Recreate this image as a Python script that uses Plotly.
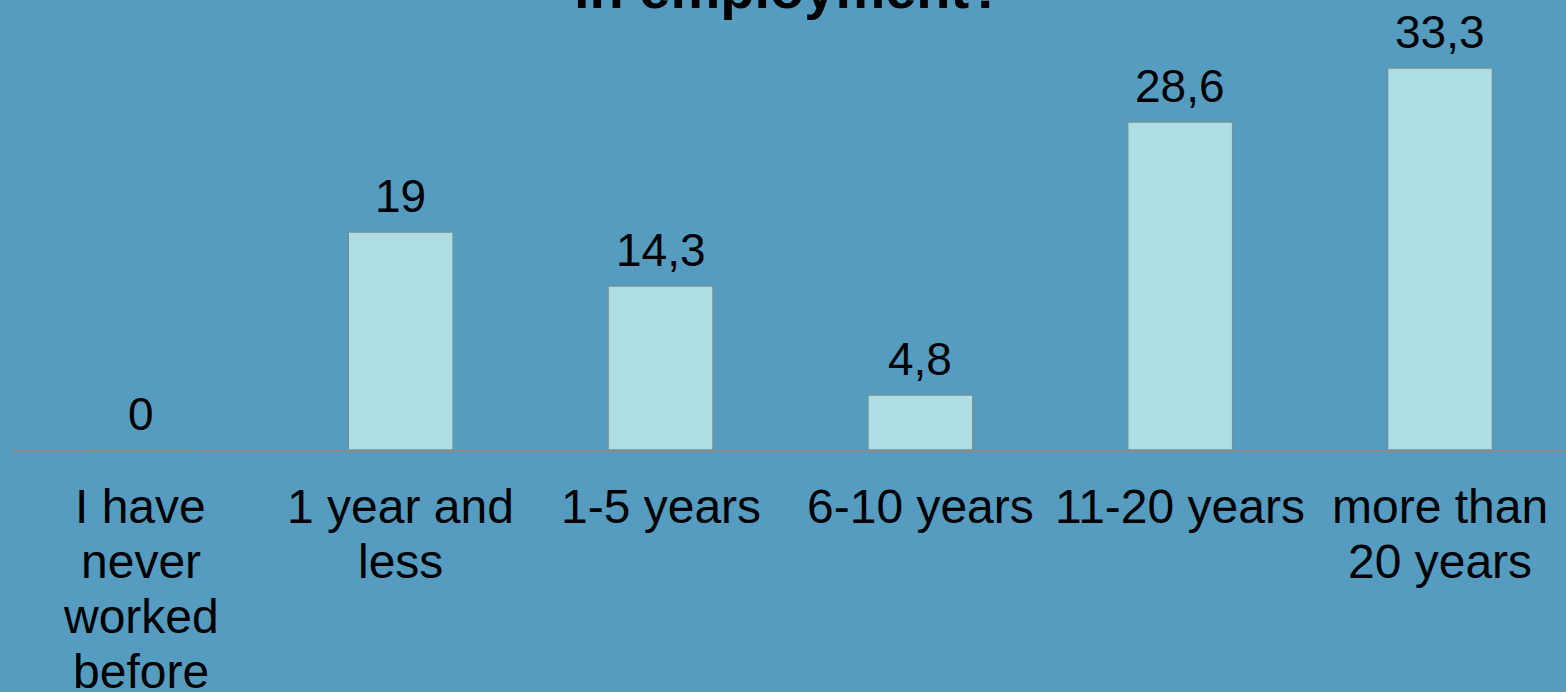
import plotly.graph_objects as go

categories = ["I have<br>never<br>worked<br>before", "1 year and<br>less", "1-5 years",
              "6-10 years", "11-20 years", "more than<br>20 years"]
values = [0, 19, 14.3, 4.8, 28.6, 33.3]
value_labels = ["0", "19", "14,3", "4,8", "28,6", "33,3"]
title_text = "in employment?"

FONT = "Liberation Sans, Arial, sans-serif"
BG = "#559CC0"

fig = go.Figure()
fig.add_trace(go.Bar(
    x=categories, y=values,
    marker=dict(color="#AEDEE4", line=dict(color="#6F9297", width=1.5)),
    hoverinfo="skip",
))

# value labels
for c, v, t in zip(categories, values, value_labels):
    fig.add_annotation(x=c, y=v, text=t, showarrow=False, yanchor="bottom",
                       yshift=8, font=dict(family=FONT, size=46, color="#000"))

# category labels, one annotation per line for tighter line spacing
LINE = 55
for c in categories:
    for i, line in enumerate(c.split("<br>")):
        fig.add_annotation(x=c, y=0, text=line, showarrow=False, yanchor="top",
                           yshift=-(29 + i * LINE), borderpad=0,
                           font=dict(family=FONT, size=48, color="#000"))

fig.add_annotation(x=0.5, y=1, xref="paper", yref="paper", text="<b>" + title_text + "</b>",
                   showarrow=False, yanchor="bottom", yshift=-21, borderpad=0,
                   font=dict(family=FONT, size=56, color="#000"))

fig.update_layout(
    width=1566, height=692,
    margin=dict(l=11, r=0, t=0, b=242),
    paper_bgcolor=BG, plot_bgcolor=BG,
    bargap=0.596, showlegend=False,
    xaxis=dict(showline=True, linecolor="#8A8A8A", linewidth=2, showgrid=False,
               ticks="", showticklabels=False, fixedrange=True,
               range=[-0.5, 5.485]),
    yaxis=dict(range=[0, 39.23], visible=False, showgrid=False, zeroline=False,
               fixedrange=True),
)

fig.write_html("out.html", config={"displayModeBar": False},
               post_script="document.body.style.margin='0';")
